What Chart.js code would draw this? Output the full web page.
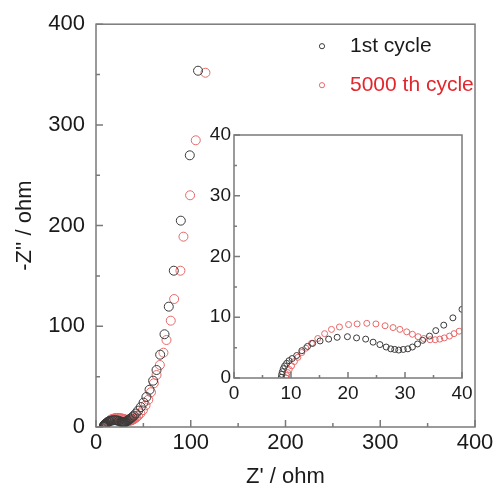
<!DOCTYPE html>
<html>
<head>
<meta charset="utf-8">
<script src="https://cdn.jsdelivr.net/npm/chart.js@4.4.0/dist/chart.umd.min.js"></script>
<style>
  html, body { margin: 0; padding: 0; background: #fff; }
  #wrap { position: relative; width: 500px; height: 491px; }
  #main { position: absolute; left: 0; top: 0; }
  #inset { position: absolute; left: 195px; top: 120px; }
</style>
</head>
<body>
<div id="wrap">
  <canvas id="main" width="500" height="491"></canvas>
  <canvas id="inset" width="285" height="290"></canvas>
</div>
<script>
// Nyquist data, Z' (ohm) and -Z'' (ohm), high to low frequency
const firstRe = [8.30, 8.36, 8.48, 8.65, 8.89, 9.24, 9.65, 10.2, 11.0, 11.9, 12.9, 13.8, 15.1, 16.6, 18.1, 19.9,
  21.5, 23.1, 24.4, 25.6, 26.7, 27.5, 28.2, 28.9, 29.7, 30.5, 31.3, 32.2, 33.1, 34.3, 35.4, 36.8, 38.4, 40.0,
  42.0, 44.5, 47.3, 50.2, 53.2, 56.5, 60.3, 63.9, 67.7, 72.3, 76.8, 82.1, 89.5, 99.0, 107.7];
const firstIm = [0.11, 0.6, 1.04, 1.54, 1.98, 2.41, 2.85, 3.2, 3.7, 4.5, 5.2, 5.7, 6.1, 6.4, 6.7, 6.8,
  6.6, 6.4, 5.9, 5.5, 5.1, 4.8, 4.7, 4.6, 4.7, 4.8, 5.1, 5.6, 6.2, 6.9, 7.8, 8.7, 9.9, 11.3,
  13.4, 16.3, 19.8, 24.2, 29.8, 37.0, 46.0, 56.6, 71.8, 92.1, 119.5, 155.2, 204.9, 269.8, 353.8];

const cycledRe = [9.12, 9.24, 9.4, 9.7, 10.1, 10.6, 11.2, 11.9, 12.6, 13.6, 14.7, 15.9, 17.1, 18.5, 20.1, 21.6,
  23.3, 24.9, 26.5, 27.9, 29.1, 30.3, 31.3, 32.3, 33.3, 34.4, 35.3, 36.1, 36.9, 37.8, 38.6, 39.5, 40.6,
  42.2, 44.3, 46.8, 49.5, 52.3, 55.2, 58.0, 61.0, 63.9, 67.4, 71.2, 74.4, 78.9, 82.5, 89.1, 92.3, 99.3, 105.3, 115.5];
const cycledIm = [0.0, 0.4, 0.9, 1.4, 2.0, 2.7, 3.4, 4.2, 4.9, 5.7, 6.5, 7.3, 8.0, 8.4, 8.8, 8.9,
  9.0, 8.9, 8.6, 8.3, 8.0, 7.6, 7.2, 6.8, 6.5, 6.3, 6.3, 6.4, 6.6, 6.9, 7.3, 7.7, 8.3,
  9.3, 11.0, 13.5, 16.8, 21.5, 27.0, 34.5, 43.4, 51.6, 61.6, 73.8, 86.4, 105.6, 127.1, 155.2, 189.0, 230.1, 284.7, 351.8];

const seriesNames = ['1st cycle', '5000 th cycle'];
const seriesColors = ['#3a3a3a', '#e86868'];
const legendColors = ['#1a1a1a', '#e3262e'];

const FONT = 'Liberation Sans, Arial, sans-serif';

function toPoints(xs, ys) {
  return xs.map((x, i) => ({ x: x, y: ys[i] }));
}

function makeDatasets(radius, clip) {
  return [
    { label: seriesNames[0], data: toPoints(firstRe, firstIm), borderColor: seriesColors[0] },
    { label: seriesNames[1], data: toPoints(cycledRe, cycledIm), borderColor: seriesColors[1] }
  ].map(ds => Object.assign(ds, {
    showLine: false,
    pointStyle: 'circle',
    pointRadius: radius,
    pointBorderWidth: 1,
    backgroundColor: 'rgba(0,0,0,0)',
    clip: clip
  }));
}

// box around the plot plus inward major/minor ticks on left and bottom
const frameTicks = {
  id: 'frameTicks',
  afterDatasetsDraw(chart, args, o) {
    const { ctx, chartArea: a, scales: { x, y } } = chart;
    ctx.save();
    ctx.strokeStyle = '#7a7a7a';
    ctx.lineWidth = 1.5;
    ctx.strokeRect(a.left, a.top, a.right - a.left, a.bottom - a.top);
    ctx.beginPath();
    for (let v = x.min; v <= x.max; v += o.minor) {
      const px = x.getPixelForValue(v);
      const len = v % o.major === 0 ? o.majorLen : o.minorLen;
      ctx.moveTo(px, a.bottom);
      ctx.lineTo(px, a.bottom - len);
    }
    for (let v = y.min; v <= y.max; v += o.minor) {
      const py = y.getPixelForValue(v);
      const len = v % o.major === 0 ? o.majorLen : o.minorLen;
      ctx.moveTo(a.left, py);
      ctx.lineTo(a.left + len, py);
    }
    ctx.stroke();
    ctx.restore();
  }
};

// legend inside the main plot, top right
const cornerLegend = {
  id: 'cornerLegend',
  afterDraw(chart) {
    const { ctx, chartArea: a } = chart;
    ctx.save();
    ctx.font = '21px ' + FONT;
    ctx.textBaseline = 'middle';
    chart.data.datasets.forEach((ds, i) => {
      const cy = a.top + 22 + i * 39;
      const cx = a.right - 153;
      ctx.beginPath();
      ctx.strokeStyle = ds.borderColor;
      ctx.lineWidth = 1;
      ctx.arc(cx, cy, 2.6, 0, Math.PI * 2);
      ctx.stroke();
      ctx.fillStyle = legendColors[i];
      ctx.fillText(ds.label, cx + 28, cy);
    });
    ctx.restore();
  }
};

function axis(min, max, step, size, pad, fit, title) {
  return {
    type: 'linear',
    min: min,
    max: max,
    grid: { display: false, drawTicks: false },
    border: { display: false },
    ticks: { stepSize: step, padding: pad, color: '#1a1a1a', font: { family: FONT, size: size } },
    title: title,
    afterFit: fit
  };
}

new Chart(document.getElementById('main'), {
  type: 'scatter',
  data: { datasets: makeDatasets(4.5, undefined) },
  options: {
    responsive: false,
    animation: false,
    events: [],
    layout: { padding: { top: 24, right: 25, left: 0, bottom: 0 } },
    plugins: {
      legend: { display: false },
      tooltip: { enabled: false },
      frameTicks: { major: 100, minor: 50, majorLen: 7, minorLen: 4 }
    },
    scales: {
      x: axis(0, 400, 100, 22, 3, s => { s.height = 64; },
        { display: true, text: "Z' / ohm", color: '#1a1a1a', font: { family: FONT, size: 22 }, padding: { top: 0, bottom: 1 } }),
      y: axis(0, 400, 100, 22, 11, s => { s.width = 96; },
        { display: true, text: "-Z'' / ohm", color: '#1a1a1a', font: { family: FONT, size: 22 }, padding: { top: 12, bottom: 0 } })
    }
  },
  plugins: [frameTicks, cornerLegend]
});

new Chart(document.getElementById('inset'), {
  type: 'scatter',
  data: { datasets: makeDatasets(3, 0) },
  options: {
    responsive: false,
    animation: false,
    events: [],
    layout: { padding: { top: 15, right: 18, left: 0, bottom: 0 } },
    plugins: {
      legend: { display: false },
      tooltip: { enabled: false },
      frameTicks: { major: 10, minor: 5, majorLen: 6, minorLen: 3 }
    },
    scales: {
      x: axis(0, 40, 10, 19, 4, s => { s.height = 32; }, { display: false }),
      y: axis(0, 40, 10, 19, 3, s => { s.width = 39; }, { display: false })
    }
  },
  plugins: [frameTicks]
});
</script>
</body>
</html>
